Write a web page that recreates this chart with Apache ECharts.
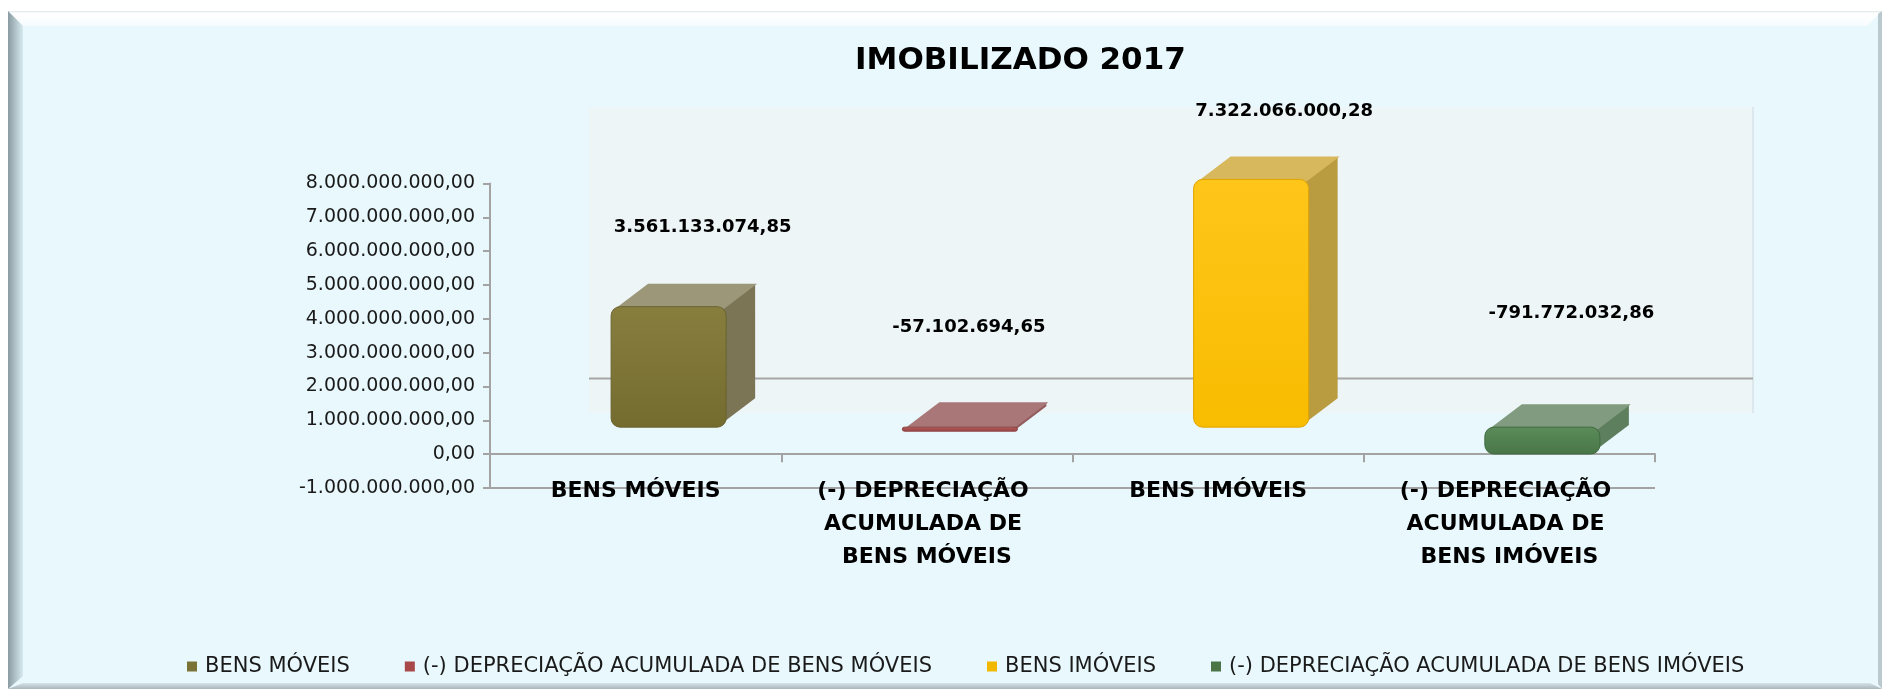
<!DOCTYPE html>
<html>
<head>
<meta charset="utf-8">
<title>IMOBILIZADO 2017</title>
<script src="https://cdn.jsdelivr.net/npm/echarts@6/dist/echarts.min.js"></script>
<style>
html,body{margin:0;padding:0;background:#fff;}
#ChartMain{width:1888px;height:691px;}
</style>
</head>
<body>
<div id="ChartMain"></div>
<script>
// dados do gráfico
var categorias = ['BENS MÓVEIS', '(-) DEPRECIAÇÃO ACUMULADA DE BENS MÓVEIS', 'BENS IMÓVEIS', '(-) DEPRECIAÇÃO ACUMULADA DE BENS IMÓVEIS'];
var valores = [3561133074.85, -57102694.65, 7322066000.28, -791772032.86];
var eixoMin = -1000000000;
var eixoMax = 8000000000;
var eixoPasso = 1000000000;

// aparência das caixas 3D (frente, topo, lado)
var cores = [
    {frente: ['#877e3e', '#746b2f'], topo: '#9d977a', lado: '#7b7556', borda: '#6a6330', legenda: '#7b7235'},
    {frente: ['#b25a5a', '#9c4545'], topo: '#a97777', lado: '#935c5c', borda: '#8c4040', legenda: '#a84848'},
    {frente: ['#ffc61a', '#f8bc00'], topo: '#d8b85c', lado: '#b99b40', borda: '#e0a400', legenda: '#f2b800'},
    {frente: ['#5b8c59', '#497648'], topo: '#819b80', lado: '#5e7f5d', borda: '#3f6a3f', legenda: '#4b7447'}
];
var ajusteRotulo = [[1, -54], [-24, -75], [0, -43], [-4, -89]];
var FRENTE_DX = 33, FRENTE_DY = -27, PROF_DX = 33, PROF_DY = -25;
var FONTE = 'DejaVu Sans';

function formataBR(n) {
    var s = Math.abs(n).toFixed(2).split('.');
    var inteiro = s[0].replace(/\B(?=(\d{3})+(?!\d))/g, '.');
    return (n < 0 ? '-' : '') + inteiro + ',' + s[1];
}

function desenhaCaixa(params, api) {
    var idx = api.value(0), v = api.value(1);
    var base = api.coord([idx, 0]);
    var topo = api.coord([idx, v]);
    var banda = api.size([1, 0])[0];
    var w = banda * 0.395;
    var x = base[0] + FRENTE_DX - w / 2;
    var y1 = Math.min(base[1], topo[1]) + FRENTE_DY;
    var y2 = Math.max(base[1], topo[1]) + FRENTE_DY;
    if (y2 - y1 < 4) y2 = y1 + 4;
    var fina = (y2 - y1) < 12;
    var ya = fina ? y1 : y1 + 2, yb = fina ? y2 : y2 - 4;
    var c = cores[params.seriesIndex];
    var aj = ajusteRotulo[params.seriesIndex];
    return {
        type: 'group',
        children: [
            {
                type: 'polygon',
                shape: {points: [[x + w - 4, ya], [x + w - 4 + PROF_DX, ya + PROF_DY], [x + w - 4 + PROF_DX, yb + PROF_DY], [x + w - 4, yb]]},
                style: {fill: c.lado}
            },
            {
                type: 'polygon',
                shape: {points: [[x + 4, ya], [x + 4 + PROF_DX, ya + PROF_DY], [x + w - 2 + PROF_DX, ya + PROF_DY], [x + w - 2, ya]]},
                style: {fill: c.topo}
            },
            {
                type: 'rect',
                shape: {x: x, y: y1, width: w, height: y2 - y1, r: Math.min(9, (y2 - y1) / 2)},
                style: {
                    fill: new echarts.graphic.LinearGradient(0, 0, 0, 1, [
                        {offset: 0, color: c.frente[0]}, {offset: 1, color: c.frente[1]}
                    ]),
                    stroke: c.borda, lineWidth: 1
                }
            },
            {
                type: 'text',
                style: {
                    x: x + w / 2 + PROF_DX + aj[0],
                    y: y1 + PROF_DY + aj[1],
                    text: formataBR(v),
                    align: 'center', verticalAlign: 'middle',
                    font: 'bold 18px "' + FONTE + '"', fill: '#000'
                }
            }
        ]
    };
}

var ImgChart = echarts.init(document.getElementById('ChartMain'));

var series = categorias.map(function (nome, i) {
    return {
        type: 'custom',
        name: nome,
        renderItem: desenhaCaixa,
        itemStyle: {color: cores[i].legenda},
        encode: {x: 0, y: 1},
        data: [[i, valores[i]]],
        z: 5
    };
});

var corLinha = ['#a3a3a3'];
for (var k = 0; k < 9; k++) corLinha.push('rgba(0,0,0,0)');

var option = {
    backgroundColor: '#ffffff',
    animation: false,
    title: {
        text: 'IMOBILIZADO 2017',
        left: 850, top: 40,
        textStyle: {fontFamily: FONTE, fontWeight: 'bold', fontSize: 31, color: '#000'}
    },
    graphic: [
        // moldura
        {type: 'rect', z: -20, silent: true, shape: {x: 8, y: 11, width: 1874, height: 678}, style: {fill: '#e8f8fd'}},
        {type: 'polygon', z: -19, silent: true, shape: {points: [[8, 11], [1882, 11], [1867, 26], [23, 26]]},
            style: {fill: new echarts.graphic.LinearGradient(0, 0, 0, 1, [{offset: 0, color: '#dfe9ec'}, {offset: 0.15, color: '#ffffff'}, {offset: 1, color: '#f6fcfe'}])}},
        {type: 'polygon', z: -19, silent: true, shape: {points: [[8, 11], [23, 26], [23, 676], [8, 689]]},
            style: {fill: new echarts.graphic.LinearGradient(0, 0, 1, 0, [{offset: 0, color: '#8a9ca2'}, {offset: 1, color: '#d6eaf0'}])}},
        {type: 'polygon', z: -19, silent: true, shape: {points: [[8, 689], [23, 683], [1870, 683], [1882, 689]]},
            style: {fill: new echarts.graphic.LinearGradient(0, 0, 0, 1, [{offset: 0, color: '#d5e4e9'}, {offset: 1, color: '#a9b6ba'}])}},
        {type: 'polygon', z: -19, silent: true, shape: {points: [[1882, 11], [1882, 689], [1878, 684], [1878, 14]]},
            style: {fill: '#b9c9ce'}},
        // parede do fundo
        {type: 'rect', z: -10, silent: true, shape: {x: 589, y: 107, width: 1164, height: 306}, style: {fill: '#eef5f7'}},
        {type: 'line', z: -10, silent: true, shape: {x1: 1753, y1: 107, x2: 1753, y2: 413}, style: {stroke: '#dde8ec', lineWidth: 2}},
        {type: 'line', z: -9, silent: true, shape: {x1: 589, y1: 378.5, x2: 1753, y2: 378.5}, style: {stroke: '#a6a6a6', lineWidth: 2}}
    ],
    legend: {
        left: 182, top: 651,
        icon: 'rect', itemWidth: 10, itemHeight: 10, itemGap: 55,
        data: categorias,
        textStyle: {fontFamily: FONTE, fontSize: 21, color: '#1a1a1a', padding: [0, 0, 0, 3]}
    },
    grid: {left: 490, right: 233, top: 183.5, bottom: 203},
    xAxis: {
        type: 'category',
        data: categorias,
        axisLine: {onZero: true, lineStyle: {color: '#a3a3a3', width: 2}},
        axisTick: {show: true, interval: 0, length: 8, lineStyle: {color: '#a3a3a3', width: 2}},
        axisLabel: {
            interval: 0, margin: -13,
            fontFamily: FONTE, fontWeight: 'bold', fontSize: 22, color: '#000',
            width: 260, overflow: 'break', lineHeight: 33
        },
        splitLine: {show: false}
    },
    yAxis: {
        type: 'value',
        min: eixoMin, max: eixoMax, interval: eixoPasso,
        axisLine: {show: true, lineStyle: {color: '#a3a3a3', width: 2}},
        axisTick: {show: true, length: 7, lineStyle: {color: '#a3a3a3', width: 2}},
        axisLabel: {
            margin: 15, fontFamily: FONTE, fontSize: 19, color: '#1a1a1a',
            formatter: function (v) { return formataBR(v); }
        },
        splitLine: {show: true, lineStyle: {color: corLinha, width: 2}}
    },
    series: series
};

ImgChart.setOption(option);
</script>
</body>
</html>
